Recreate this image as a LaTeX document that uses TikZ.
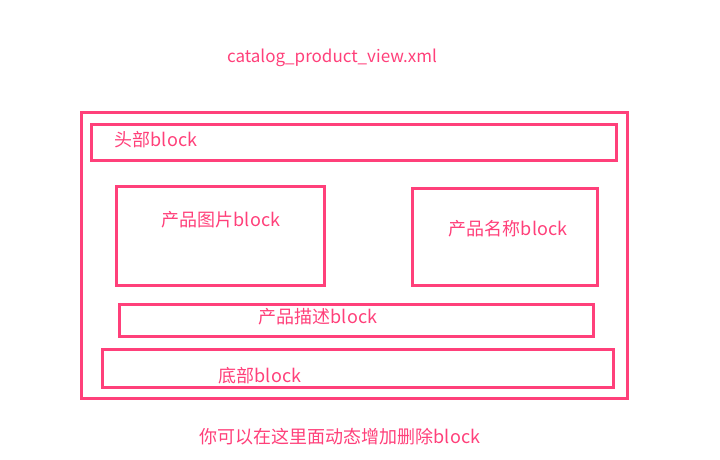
\documentclass[tikz,border=0pt]{standalone}
\usepackage{fontspec}
\setmainfont{Noto Sans CJK SC}
\definecolor{rosered}{RGB}{255,64,122}
\tikzset{
    blockbox/.style={draw=rosered, line width=3pt, inner sep=0pt},
    blocktext/.style={text=rosered, font=\fontsize{18}{21}\selectfont, inner sep=0pt}
}
\begin{document}
\begin{tikzpicture}[x=1pt, y=-1pt]
        \useasboundingbox (0,0) rectangle (720,460);
        % Boxes
        \node[blockbox, minimum width=546pt, minimum height=286pt] at (354, 255)  (page)  {};
        \node[blockbox, minimum width=525pt, minimum height=36pt]  at (353.5, 142)  (head)  {};
        \node[blockbox, minimum width=208pt, minimum height=99pt]  at (220, 235.5)  (image) {};
        \node[blockbox, minimum width=185pt, minimum height=97pt]  at (505, 236.5)  (name)  {};
        \node[blockbox, minimum width=474pt, minimum height=32pt]  at (356.5, 320)  (desc)  {};
        \node[blockbox, minimum width=511pt, minimum height=38pt]  at (357.5, 368)  (foot)  {};

        % Texts
        \node[blocktext, font=\fontsize{17}{20}\selectfont] at (332, 58) (title) {catalog\_product\_view.xml};
        \node[blocktext] at (156, 140)  (headtext)  {头部block};
        \node[blocktext] at (221, 220)  (imagetext) {产品图片block};
        \node[blocktext] at (508, 229)  (nametext)  {产品名称block};
        \node[blocktext] at (318, 317)  (desctext)  {产品描述block};
        \node[blocktext] at (260, 376)  (foottext)  {底部block};
        \node[blocktext] at (340, 437)  (note)      {你可以在这里面动态增加删除block};
    \end{tikzpicture}
\end{document}
